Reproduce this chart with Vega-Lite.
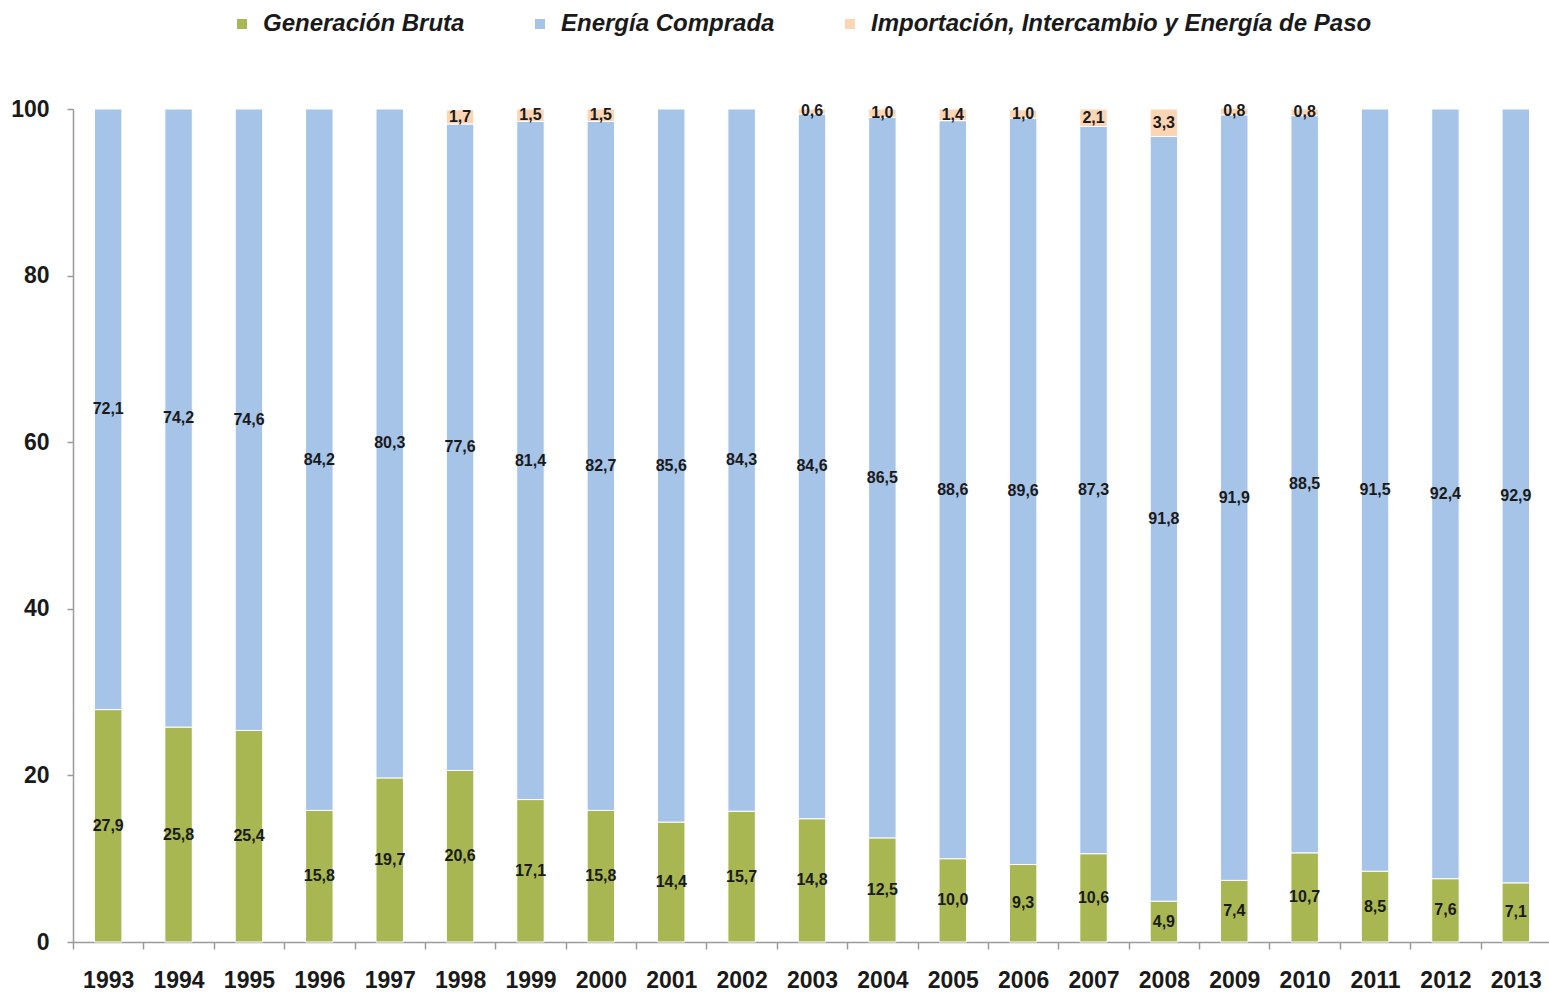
{
  "$schema": "https://vega.github.io/schema/vega-lite/v6.json",
  "width": 1478,
  "height": 833,
  "autosize": "none",
  "padding": {"left": 73, "top": 109, "right": 0, "bottom": 52},
  "background": "white",
  "config": {
    "view": {"stroke": null},
    "font": "Liberation Sans",
    "locale": {"number": {"decimal": ",", "thousands": ".", "grouping": [3], "currency": ["", " €"]}}
  },
  "data": {
    "values": [
      {"a": "1993", "s": "Generación Bruta", "o": 1, "v": 27.9},
      {"a": "1994", "s": "Generación Bruta", "o": 1, "v": 25.8},
      {"a": "1995", "s": "Generación Bruta", "o": 1, "v": 25.4},
      {"a": "1996", "s": "Generación Bruta", "o": 1, "v": 15.8},
      {"a": "1997", "s": "Generación Bruta", "o": 1, "v": 19.7},
      {"a": "1998", "s": "Generación Bruta", "o": 1, "v": 20.6},
      {"a": "1999", "s": "Generación Bruta", "o": 1, "v": 17.1},
      {"a": "2000", "s": "Generación Bruta", "o": 1, "v": 15.8},
      {"a": "2001", "s": "Generación Bruta", "o": 1, "v": 14.4},
      {"a": "2002", "s": "Generación Bruta", "o": 1, "v": 15.7},
      {"a": "2003", "s": "Generación Bruta", "o": 1, "v": 14.8},
      {"a": "2004", "s": "Generación Bruta", "o": 1, "v": 12.5},
      {"a": "2005", "s": "Generación Bruta", "o": 1, "v": 10.0},
      {"a": "2006", "s": "Generación Bruta", "o": 1, "v": 9.3},
      {"a": "2007", "s": "Generación Bruta", "o": 1, "v": 10.6},
      {"a": "2008", "s": "Generación Bruta", "o": 1, "v": 4.9},
      {"a": "2009", "s": "Generación Bruta", "o": 1, "v": 7.4},
      {"a": "2010", "s": "Generación Bruta", "o": 1, "v": 10.7},
      {"a": "2011", "s": "Generación Bruta", "o": 1, "v": 8.5},
      {"a": "2012", "s": "Generación Bruta", "o": 1, "v": 7.6},
      {"a": "2013", "s": "Generación Bruta", "o": 1, "v": 7.1},
      {"a": "1993", "s": "Energía Comprada", "o": 2, "v": 72.1},
      {"a": "1994", "s": "Energía Comprada", "o": 2, "v": 74.2},
      {"a": "1995", "s": "Energía Comprada", "o": 2, "v": 74.6},
      {"a": "1996", "s": "Energía Comprada", "o": 2, "v": 84.2},
      {"a": "1997", "s": "Energía Comprada", "o": 2, "v": 80.3},
      {"a": "1998", "s": "Energía Comprada", "o": 2, "v": 77.6},
      {"a": "1999", "s": "Energía Comprada", "o": 2, "v": 81.4},
      {"a": "2000", "s": "Energía Comprada", "o": 2, "v": 82.7},
      {"a": "2001", "s": "Energía Comprada", "o": 2, "v": 85.6},
      {"a": "2002", "s": "Energía Comprada", "o": 2, "v": 84.3},
      {"a": "2003", "s": "Energía Comprada", "o": 2, "v": 84.6},
      {"a": "2004", "s": "Energía Comprada", "o": 2, "v": 86.5},
      {"a": "2005", "s": "Energía Comprada", "o": 2, "v": 88.6},
      {"a": "2006", "s": "Energía Comprada", "o": 2, "v": 89.6},
      {"a": "2007", "s": "Energía Comprada", "o": 2, "v": 87.3},
      {"a": "2008", "s": "Energía Comprada", "o": 2, "v": 91.8},
      {"a": "2009", "s": "Energía Comprada", "o": 2, "v": 91.9},
      {"a": "2010", "s": "Energía Comprada", "o": 2, "v": 88.5},
      {"a": "2011", "s": "Energía Comprada", "o": 2, "v": 91.5},
      {"a": "2012", "s": "Energía Comprada", "o": 2, "v": 92.4},
      {"a": "2013", "s": "Energía Comprada", "o": 2, "v": 92.9},
      {"a": "1993", "s": "Importación, Intercambio y Energía de Paso", "o": 3, "v": 0},
      {"a": "1994", "s": "Importación, Intercambio y Energía de Paso", "o": 3, "v": 0},
      {"a": "1995", "s": "Importación, Intercambio y Energía de Paso", "o": 3, "v": 0},
      {"a": "1996", "s": "Importación, Intercambio y Energía de Paso", "o": 3, "v": 0},
      {"a": "1997", "s": "Importación, Intercambio y Energía de Paso", "o": 3, "v": 0},
      {"a": "1998", "s": "Importación, Intercambio y Energía de Paso", "o": 3, "v": 1.7},
      {"a": "1999", "s": "Importación, Intercambio y Energía de Paso", "o": 3, "v": 1.5},
      {"a": "2000", "s": "Importación, Intercambio y Energía de Paso", "o": 3, "v": 1.5},
      {"a": "2001", "s": "Importación, Intercambio y Energía de Paso", "o": 3, "v": 0},
      {"a": "2002", "s": "Importación, Intercambio y Energía de Paso", "o": 3, "v": 0},
      {"a": "2003", "s": "Importación, Intercambio y Energía de Paso", "o": 3, "v": 0.6},
      {"a": "2004", "s": "Importación, Intercambio y Energía de Paso", "o": 3, "v": 1.0},
      {"a": "2005", "s": "Importación, Intercambio y Energía de Paso", "o": 3, "v": 1.4},
      {"a": "2006", "s": "Importación, Intercambio y Energía de Paso", "o": 3, "v": 1.0},
      {"a": "2007", "s": "Importación, Intercambio y Energía de Paso", "o": 3, "v": 2.1},
      {"a": "2008", "s": "Importación, Intercambio y Energía de Paso", "o": 3, "v": 3.3},
      {"a": "2009", "s": "Importación, Intercambio y Energía de Paso", "o": 3, "v": 0.8},
      {"a": "2010", "s": "Importación, Intercambio y Energía de Paso", "o": 3, "v": 0.8},
      {"a": "2011", "s": "Importación, Intercambio y Energía de Paso", "o": 3, "v": 0},
      {"a": "2012", "s": "Importación, Intercambio y Energía de Paso", "o": 3, "v": 0},
      {"a": "2013", "s": "Importación, Intercambio y Energía de Paso", "o": 3, "v": 0}
    ]
  },
  "transform": [
    {"filter": "datum.v > 0"},
    {"stack": "v", "groupby": ["a"], "sort": [{"field": "o"}], "as": ["v0", "v1"]},
    {"calculate": "(datum.v0 + datum.v1) / 2", "as": "m"}
  ],
  "encoding": {
    "x": {
      "field": "a",
      "type": "nominal",
      "sort": null,
      "scale": {"paddingInner": 0, "paddingOuter": 0},
      "axis": {
        "title": null,
        "labelAngle": 0,
        "tickBand": "extent",
        "tickSize": 7,
        "tickColor": "#9a9a9a",
        "domainColor": "#9a9a9a",
        "domainWidth": 1.5,
        "tickWidth": 1.5,
        "labelFont": "Liberation Sans",
        "labelFontWeight": "bold",
        "labelFontSize": 23,
        "labelColor": "#1a1a1a",
        "labelPadding": 20
      }
    }
  },
  "layer": [
    {
      "mark": {"type": "bar", "stroke": "white", "strokeWidth": 1, "width": {"band": 0.39}},
      "encoding": {
        "y": {
          "field": "v0",
          "type": "quantitative",
          "scale": {"domain": [0, 100], "nice": false},
          "axis": {
            "title": null,
            "values": [0, 20, 40, 60, 80, 100],
            "grid": false,
            "tickSize": 6,
            "tickColor": "#9a9a9a",
            "domainColor": "#9a9a9a",
            "domainWidth": 1.5,
            "tickWidth": 1.5,
            "labelFont": "Liberation Sans",
            "labelFontWeight": "bold",
            "labelFontSize": 23,
            "labelColor": "#1a1a1a",
            "labelPadding": 18
          }
        },
        "y2": {"field": "v1"},
        "color": {
          "field": "s",
          "type": "nominal",
          "scale": {
            "domain": ["Generación Bruta", "Energía Comprada", "Importación, Intercambio y Energía de Paso"],
            "range": ["#a9b753", "#a6c3e8", "#fcd5b5"]
          },
          "legend": {
            "title": null,
            "orient": "none",
            "direction": "horizontal",
            "legendX": 157,
            "legendY": -97,
            "symbolType": "square",
            "symbolSize": 100,
            "symbolStrokeWidth": 0,
            "labelFont": "Liberation Sans",
            "labelFontStyle": "italic",
            "labelFontWeight": "bold",
            "labelFontSize": 24,
            "labelColor": "#1a1a1a",
            "labelOffset": 9,
            "columnPadding": 63,
            "labelLimit": 800
          }
        }
      }
    },
    {
      "mark": {"type": "text", "font": "Liberation Sans", "fontWeight": "bold", "fontSize": 16, "color": "#1a1a1a", "baseline": "middle"},
      "encoding": {
        "y": {"field": "m", "type": "quantitative"},
        "text": {"field": "v", "type": "quantitative", "format": ".1f"}
      }
    }
  ]
}
